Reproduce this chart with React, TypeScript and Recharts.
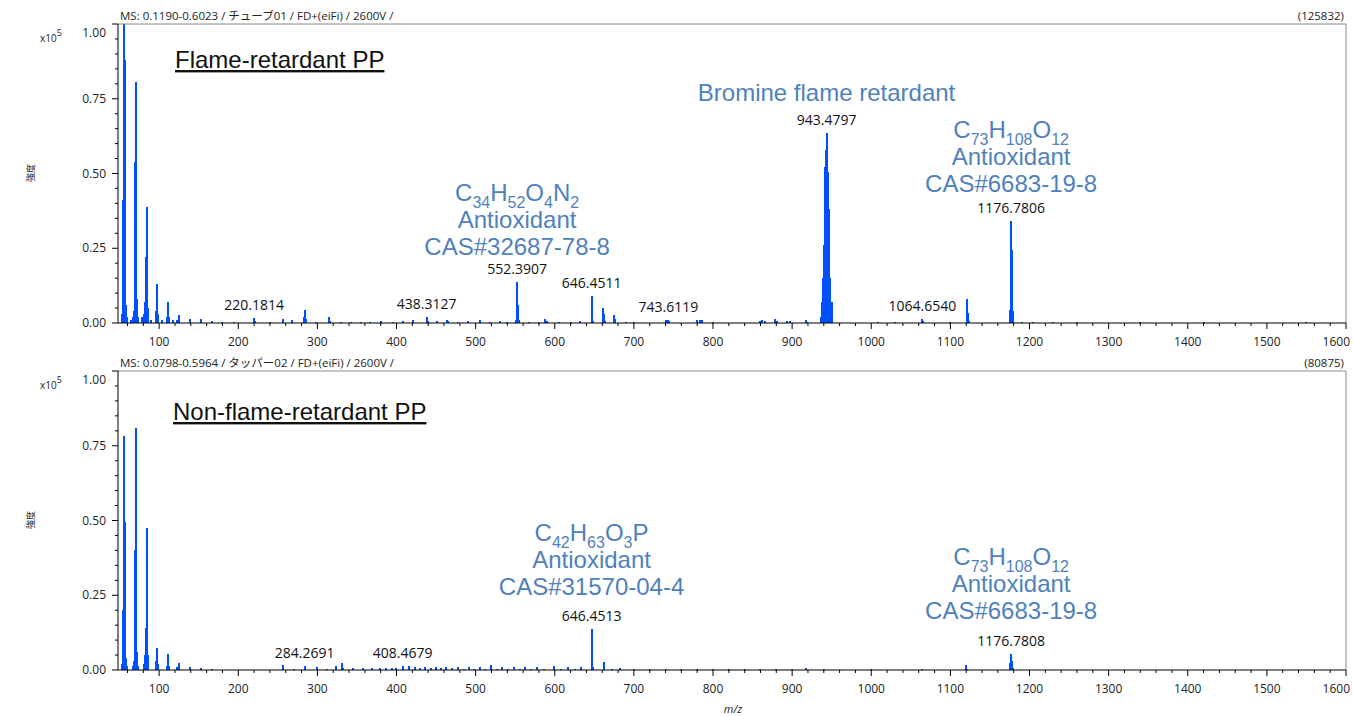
import React from "react";
import { BarChart, Bar, XAxis, YAxis, ReferenceLine, ReferenceDot } from "recharts";

// [m/z, intensity x10^5]
type Peak = [number, number];

const flameLow: Peak[] = [
  [52.5, 0.03], [54, 0.41], [55.2, 1.258], [56.8, 0.88], [58, 0.06], [60, 0.02],
  [64, 0.01], [66.5, 0.02], [68, 0.04], [69, 0.41], [69.8, 0.54], [70.8, 0.806],
  [72, 0.08], [73, 0.02], [78, 0.02], [81, 0.03], [82.5, 0.07], [83.3, 0.22],
  [84.6, 0.389], [85.6, 0.05], [90, 0.01], [95.5, 0.04], [97.3, 0.13], [98.3, 0.03],
  [104, 0.01], [109.5, 0.02], [111.2, 0.071], [112.2, 0.02], [118, 0.01],
  [123, 0.01], [124.7, 0.027], [125.7, 0.01], [138.5, 0.012], [139.5, 0.006],
  [152.5, 0.012], [153.5, 0.006], [166.5, 0.008], [180, 0.005], [195, 0.004],
];

const flameMid: Peak[] = [
  [220, 0.016], [221, 0.006], [240, 0.004], [256, 0.012], [267.5, 0.01],
  [283, 0.02], [284.3, 0.043], [285.5, 0.012], [298, 0.004], [314.7, 0.019],
  [316, 0.006], [330, 0.005], [342, 0.004], [355, 0.004], [367, 0.004],
  [380, 0.008], [395, 0.004], [408.6, 0.007], [421, 0.01], [438, 0.019],
  [439.2, 0.006], [451, 0.006], [463.5, 0.01], [465, 0.006], [478, 0.004],
  [490.8, 0.007], [505.5, 0.01], [518, 0.004], [530.8, 0.008], [540, 0.004],
  [551, 0.01], [552.4, 0.136], [553.4, 0.06], [554.5, 0.01], [567, 0.004],
  [580, 0.004], [588, 0.012], [590, 0.008], [605, 0.004], [620, 0.005],
  [632, 0.007], [646.5, 0.091], [647.5, 0.04], [648.5, 0.008], [661.5, 0.049],
  [662.6, 0.03], [663.5, 0.006], [675.5, 0.028], [676.6, 0.013], [690, 0.004],
  [700, 0.003], [741, 0.01], [743.6, 0.01], [745, 0.008],
];

const flameHigh: Peak[] = [
  [780, 0.01], [783, 0.011], [786, 0.009], [800, 0.003], [859, 0.008],
  [862, 0.009], [866, 0.007], [878, 0.012], [881, 0.006], [893, 0.008],
  [897, 0.008], [917, 0.01], [918.5, 0.005],
  [936.5, 0.02], [938, 0.071], [939.2, 0.15], [940.4, 0.26], [941.7, 0.523],
  [942.6, 0.58], [943.5, 0.634], [944.3, 0.57], [945.1, 0.506], [946.2, 0.38],
  [947.2, 0.25], [948.5, 0.15], [949.8, 0.071], [951, 0.02],
  [1009, 0.004], [1030, 0.003], [1064.6, 0.014], [1065.8, 0.008], [1100, 0.003],
  [1120.7, 0.079], [1121.7, 0.035], [1123, 0.006], [1175.4, 0.043],
  [1176.8, 0.342], [1178, 0.244], [1179.3, 0.04], [1190, 0.005], [1205, 0.004],
  [1230, 0.004], [1260, 0.002], [1340, 0.003], [1420, 0.002], [1550, 0.002],
];

const plainLow: Peak[] = [
  [52.5, 0.02], [54, 0.2], [55.2, 0.783], [56.8, 0.496], [58, 0.04], [60, 0.015],
  [66.5, 0.015], [68, 0.03], [69, 0.26], [69.8, 0.4], [70.8, 0.808], [72, 0.06],
  [73, 0.015], [81, 0.02], [82.5, 0.05], [83.3, 0.14], [84.6, 0.474], [85.6, 0.05],
  [95.5, 0.03], [97.3, 0.073], [98.3, 0.02], [109.5, 0.015], [111.2, 0.053],
  [112.2, 0.015], [123, 0.01], [124.7, 0.022], [138.5, 0.009], [152.5, 0.006],
  [166.5, 0.004],
];

const plainMid: Peak[] = [
  [256, 0.017], [257, 0.005], [270, 0.004], [284, 0.013], [285, 0.006],
  [299, 0.011], [312, 0.005], [324, 0.013], [331.5, 0.022], [333, 0.008],
  [345, 0.006], [358, 0.008], [369, 0.006], [379, 0.008], [387, 0.006],
  [394.6, 0.008], [400, 0.006], [407.7, 0.013], [415.5, 0.014], [423, 0.011],
  [430, 0.006], [436.5, 0.009], [443, 0.006], [449.6, 0.011], [456, 0.006],
  [462.6, 0.011], [470, 0.006], [478, 0.011], [485, 0.005], [491.5, 0.009],
  [498, 0.005], [505.5, 0.011], [512, 0.005], [520, 0.016], [527, 0.005],
  [533, 0.009], [541, 0.005], [549, 0.011], [556, 0.005], [562, 0.009],
  [570, 0.005], [578, 0.009], [586, 0.005], [599, 0.014], [608, 0.005],
  [617, 0.011], [625, 0.005], [633, 0.011], [646.5, 0.137], [647.5, 0.068],
  [648.5, 0.01], [661.8, 0.028], [662.8, 0.01], [672, 0.004], [683, 0.006],
];

const plainHigh: Peak[] = [
  [700, 0.004], [720, 0.003], [740, 0.003], [760, 0.003], [780, 0.003],
  [800, 0.003], [820, 0.003], [840, 0.003], [860, 0.003], [880, 0.003],
  [900, 0.003], [917.6, 0.008], [940, 0.002], [1000, 0.002], [1064, 0.003],
  [1120, 0.017], [1121, 0.005], [1175.5, 0.025], [1176.8, 0.053], [1178, 0.03],
  [1179.3, 0.006],
];

type Note = { mz: number; mass: string; formula?: string; lines?: string[]; lift?: number };

const flameNotes: Note[] = [
  { mz: 220, mass: "220.1814" },
  { mz: 438, mass: "438.3127" },
  { mz: 552.4, mass: "552.3907", formula: "C34H52O4N2", lines: ["Antioxidant", "CAS#32687-78-8"], lift: 19 },
  { mz: 646.5, mass: "646.4511" },
  { mz: 743.6, mass: "743.6119" },
  { mz: 943.5, mass: "943.4797", lines: ["Bromine flame retardant"], lift: 24 },
  { mz: 1064.6, mass: "1064.6540" },
  { mz: 1176.8, mass: "1176.7806", formula: "C73H108O12", lines: ["Antioxidant", "CAS#6683-19-8"], lift: 21 },
];

const plainNotes: Note[] = [
  { mz: 284, mass: "284.2691" },
  { mz: 407.7, mass: "408.4679" },
  { mz: 646.5, mass: "646.4513", formula: "C42H63O3P", lines: ["Antioxidant", "CAS#31570-04-4"], lift: 26 },
  { mz: 1176.8, mass: "1176.7808", formula: "C73H108O12", lines: ["Antioxidant", "CAS#6683-19-8"], lift: 27 },
];

const majorX = [100, 200, 300, 400, 500, 600, 700, 800, 900, 1000, 1100, 1200, 1300, 1400, 1500, 1600];
const xTicks: number[] = [];
for (let v = 60; v <= 1600; v += 20) xTicks.push(v);
const yTicks: number[] = [];
for (let k = 0; k <= 20; k++) yTicks.push(k / 20);

const uiFont = "'Open Sans', 'Noto Sans CJK JP', sans-serif";
const arial = "'Liberation Sans', Arial, sans-serif";
const noteBlue = "#4f81bd";
const stickBlue = "#0050ff";

const toRows = (...groups: Peak[][]) => groups.flat().map(([mz, i]) => ({ mz, i }));
const peakAt = (rows: { mz: number; i: number }[], mz: number) =>
  Math.max(...rows.filter((r) => Math.abs(r.mz - mz) < 0.6).map((r) => r.i));

// draw every peak as a 2px stick centred on its m/z
const Stick = (props: any) => {
  const { x, y, width, height } = props;
  if (!height || height <= 0) return <g />;
  const cx = x + width / 2;
  return <rect x={cx - 1} y={y} width={2} height={height} fill={stickBlue} shapeRendering="crispEdges" />;
};

const XTick = (props: any) => {
  const { x, y, payload } = props;
  const v = payload.value as number;
  const major = majorX.includes(v);
  const last = v === 1600;
  return (
    <g>
      <line x1={x} y1={y} x2={x} y2={y + (major ? 6 : 3)} stroke="#000" />
      {major && (
        <text
          x={last ? x + 4 : x}
          y={y + 23}
          textAnchor={last ? "end" : "middle"}
          fontSize={12}
          fill="#222"
          fontFamily={uiFont}
        >
          {v}
        </text>
      )}
    </g>
  );
};

const YTick = (props: any) => {
  const { x, y, payload } = props;
  const v = payload.value as number;
  const major = Math.abs(v * 4 - Math.round(v * 4)) < 1e-6;
  return (
    <g>
      <line x1={x - (major ? 6 : 3)} y1={y} x2={x} y2={y} stroke="#000" />
      {major && (
        <text x={x - 12} y={v >= 1 ? y + 13 : y + 4} textAnchor="end" fontSize={12} fill="#222" fontFamily={uiFont}>
          {v.toFixed(2)}
        </text>
      )}
    </g>
  );
};

function Formula({ text }: { text: string }) {
  const parts = text.split(/(\d+)/).filter(Boolean);
  let low = false;
  return (
    <>
      {parts.map((p, k) => {
        const digit = /^\d+$/.test(p);
        const dy = digit && !low ? 7 : !digit && low ? -7 : 0;
        low = digit;
        return (
          <tspan key={k} dy={dy} fontSize={digit ? 16 : 24}>
            {p}
          </tspan>
        );
      })}
    </>
  );
}

function NoteLabel({ viewBox, note }: any) {
  const cx = viewBox.x;
  const base = viewBox.y - 8;
  const blue: { text: string; formula: boolean }[] = [];
  if (note.formula) blue.push({ text: note.formula, formula: true });
  (note.lines ?? []).forEach((t: string) => blue.push({ text: t, formula: false }));
  return (
    <g>
      <text x={cx} y={base} textAnchor="middle" fontSize={14} fill="#111" fontFamily={uiFont}>
        {note.mass}
      </text>
      {blue.map((b, k) => (
        <text
          key={k}
          x={cx}
          y={base - (note.lift ?? 20) - (blue.length - 1 - k) * 27}
          textAnchor="middle"
          fontSize={24}
          fill={noteBlue}
          fontFamily={arial}
        >
          {b.formula ? <Formula text={b.text} /> : b.text}
        </text>
      ))}
    </g>
  );
}

function Panel({ rows, notes, top, height, extra }: { rows: { mz: number; i: number }[]; notes: Note[]; top: number; height: number; extra: number }) {
  return (
    <div style={{ position: "absolute", left: 0, top }}>
      <BarChart width={1353} height={height} data={rows} margin={{ top: 24, right: 7, bottom: extra, left: 78 }}>
        <XAxis
          dataKey="mz"
          type="number"
          domain={[48, 1600]}
          allowDataOverflow
          ticks={xTicks}
          interval={0}
          tickSize={0}
          tickMargin={0}
          tickLine={false}
          tick={XTick}
          axisLine={{ stroke: "#000" }}
          height={22}
        />
        <YAxis
          type="number"
          domain={[0, 1]}
          allowDataOverflow
          ticks={yTicks}
          interval={0}
          tickSize={0}
          tickMargin={0}
          tickLine={false}
          tick={YTick}
          axisLine={{ stroke: "#000" }}
          width={40}
        />
        <ReferenceLine y={1} stroke="#8a8a8a" />
        <ReferenceLine x={1600} stroke="#8a8a8a" />
        <Bar dataKey="i" fill={stickBlue} barSize={2} shape={Stick} isAnimationActive={false} />
        {notes.map((n) => (
          <ReferenceDot
            key={n.mass}
            x={n.mz}
            y={peakAt(rows, n.mz)}
            r={0}
            fill="none"
            stroke="none"
            label={(p: any) => <NoteLabel viewBox={p.viewBox} note={n} />}
          />
        ))}
      </BarChart>
    </div>
  );
}

const flameRows = toRows(flameLow, flameMid, flameHigh);
const plainRows = toRows(plainLow, plainMid, plainHigh);

export default function App() {
  return (
    <div style={{ position: "absolute", left: 0, top: 0, width: 1353, height: 716, background: "#fff", overflow: "hidden" }}>
      <Panel rows={flameRows} notes={flameNotes} top={0} height={360} extra={15} />
      <Panel rows={plainRows} notes={plainNotes} top={347} height={369} extra={24} />
      <svg width={1353} height={716} style={{ position: "absolute", left: 0, top: 0, pointerEvents: "none" }}>
        <g fontFamily={uiFont} fill="#222">
          <text x={120} y={20} fontSize={11.5}>MS: 0.1190-0.6023 / チューブ01 / FD+(eiFi) / 2600V /</text>
          <text x={1344} y={20} fontSize={11.5} textAnchor="end">(125832)</text>
          <text x={120} y={367} fontSize={11.5}>MS: 0.0798-0.5964 / タッパー02 / FD+(eiFi) / 2600V /</text>
          <text x={1344} y={367} fontSize={11.5} textAnchor="end">(80875)</text>
          <text x={40} y={42} fontSize={10}>x10<tspan dy={-6} fontSize={9}>5</tspan></text>
          <text x={40} y={389} fontSize={10}>x10<tspan dy={-6} fontSize={9}>5</tspan></text>
          <text x={34} y={173} fontSize={9} textAnchor="middle" transform="rotate(-90 34 173)">強度</text>
          <text x={34} y={520} fontSize={9} textAnchor="middle" transform="rotate(-90 34 520)">強度</text>
          <text x={733} y={713} fontSize={11} textAnchor="middle" fontStyle="italic">m/z</text>
        </g>
        <g fontFamily={arial} fill="#111" fontSize={24}>
          <text x={175} y={68} textDecoration="underline">Flame-retardant PP</text>
          <text x={173} y={420} textDecoration="underline">Non-flame-retardant PP</text>
        </g>
      </svg>
    </div>
  );
}
